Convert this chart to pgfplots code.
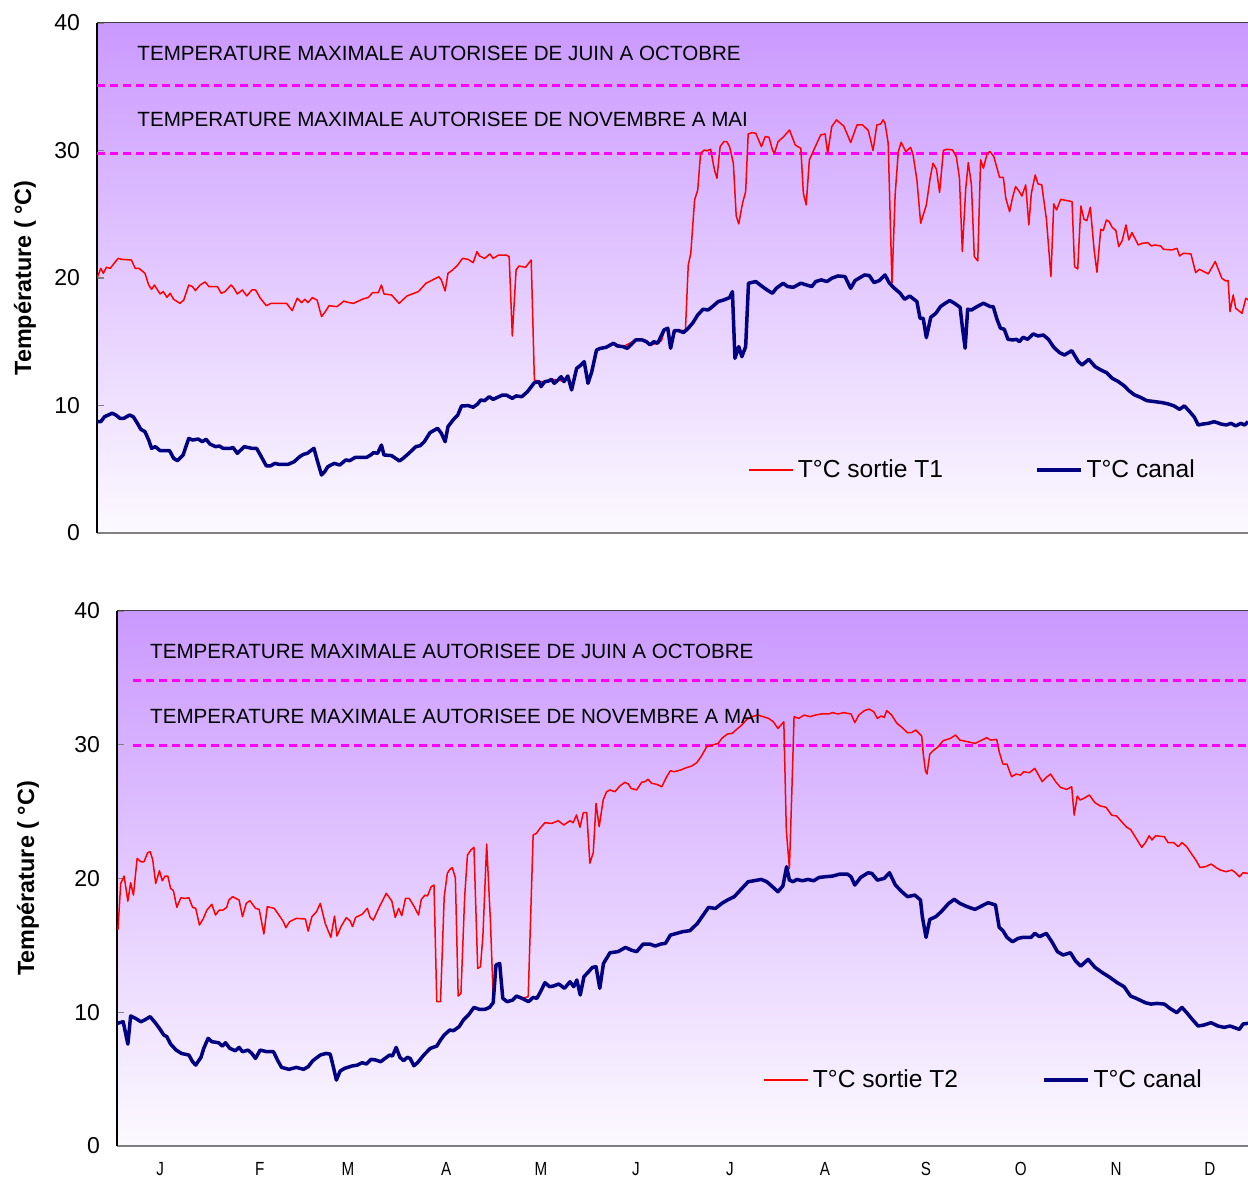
\documentclass[border=0pt]{standalone}
\usepackage{fontspec}
\setmainfont{Liberation Sans}
\usepackage{graphicx}
\usepackage{pgfplots}
\pgfplotsset{compat=1.18}
\usepackage{pgfplotstable}

\definecolor{bgtop}{RGB}{202,153,255}
\definecolor{bgbot}{RGB}{252,250,255}
\definecolor{rouge}{RGB}{255,0,0}
\definecolor{marine}{RGB}{0,0,128}
\definecolor{fuchsia}{RGB}{255,0,255}

% Sortie T1 (jour, degres C)
\pgfplotstableread{
d t
0 19.98
1.2 20.76
2.0 20.37
3.0 20.84
4.2 20.76
6.7 21.54
7.9 21.46
10.9 21.41
12.1 20.76
13.3 20.76
15.2 20.37
16.4 19.45
17.3 19.11
18.2 19.45
20.0 18.75
21.0 18.93
22.2 18.48
23.2 18.80
24.3 18.33
26.3 18.01
27.5 18.27
29.1 19.45
30.3 19.32
31.2 19.01
32.7 19.45
34.3 19.69
35.5 19.32
38.2 19.32
39.4 18.80
40.6 18.93
42.5 19.45
43.3 19.24
44.5 18.75
46.1 19.06
47.5 18.59
49.1 19.06
50.3 19.06
51.8 18.41
53.7 17.83
55.2 18.01
60.1 18.01
61.9 17.44
63.5 18.41
64.9 18.07
65.9 18.33
66.9 18.07
68.3 18.46
69.8 18.27
71.2 16.97
72.4 17.36
73.6 17.83
76.1 17.75
78.3 18.19
79.5 18.09
81.3 18.01
84.3 18.35
86.1 18.48
87.4 18.85
89.2 18.85
90.2 19.45
91.0 18.75
93.4 18.67
95.8 18.01
98.3 18.59
101.9 18.93
104.3 19.58
108.4 20.10
109.2 19.84
110.4 18.98
111.3 20.37
112.8 20.63
114.4 21.02
115.9 21.54
117.7 21.46
119.3 21.20
120.5 22.07
121.3 21.73
122.9 21.54
124.6 21.88
125.6 21.54
127.4 21.80
129.8 21.80
130.7 21.67
131.7 15.45
132.9 20.63
133.8 20.94
135.9 20.84
137.7 21.41
138.7 12.00
140.2 11.87
142.0 11.87
144.1 12.05
146.2 12.00
148.1 11.87
149.3 12.31
150.5 11.22
152.1 12.91
154.5 13.44
155.7 11.74
156.9 12.65
158.4 14.35
161.4 14.56
163.8 14.88
166.9 14.61
170.8 15.14
172.9 15.14
175.4 14.75
177.8 14.88
179.0 15.09
180.0 15.92
181.1 15.97
182.0 14.48
182.9 15.87
185.1 15.87
186.6 15.90
187.5 21.02
188.3 21.94
189.5 26.12
190.5 26.91
191.4 29.78
192.6 30.04
193.4 29.97
194.6 30.10
195.8 28.47
196.6 27.82
197.6 30.30
198.8 30.70
199.7 30.70
200.6 30.30
201.8 29.00
202.7 24.87
203.5 24.24
204.7 25.86
205.7 26.77
206.5 31.30
207.7 31.40
208.9 31.35
210.7 30.30
211.9 31.09
213.1 31.04
214.2 30.04
214.8 29.78
216.0 30.70
217.8 31.09
219.6 31.61
221.4 30.44
222.6 30.25
223.2 30.17
224.0 26.64
224.9 25.73
225.9 29.26
227.3 30.04
229.5 31.22
230.9 31.30
231.7 29.78
233.0 31.87
234.5 32.40
236.0 32.08
236.8 31.93
239.0 30.62
241.0 32.00
242.8 32.00
244.6 31.56
246.1 30.00
247.3 32.00
248.5 32.08
249.3 32.40
249.9 32.13
250.9 30.57
252.1 19.59
253.1 26.51
254.1 29.91
255.0 30.64
256.5 29.91
258.0 30.25
258.8 29.65
260.0 27.69
261.2 24.29
263.0 25.73
264.2 27.82
265.1 29.00
266.2 28.53
267.2 26.70
268.4 30.00
269.5 30.10
271.3 30.04
272.5 29.52
273.5 27.82
274.4 22.07
275.5 27.04
276.3 29.05
277.3 27.30
278.2 21.68
279.3 21.34
280.2 29.26
281.1 28.61
282.3 29.78
283.2 29.91
284.4 29.52
286.2 27.90
287.4 27.90
288.2 26.25
289.4 25.20
290.4 26.38
291.3 27.17
292.5 26.77
293.3 26.43
294.5 27.30
295.5 24.16
296.3 26.64
297.5 28.08
298.4 27.38
299.6 27.30
301.1 24.55
302.5 20.11
303.4 25.81
304.3 25.34
305.6 26.17
309.2 25.99
310.0 20.89
311.0 20.71
312.0 25.65
313.0 24.60
313.9 24.50
315.0 25.55
316.2 22.20
317.1 20.45
318.3 23.82
319.1 23.72
320.1 24.55
321.0 24.42
321.9 23.98
323.1 23.72
324.0 22.46
325.1 22.93
326.3 24.16
327.2 22.98
328.2 23.56
330.2 22.59
331.4 22.72
333.2 22.77
334.4 22.51
335.5 22.59
337.3 22.51
338.2 22.25
340.9 22.20
342.5 22.33
343.3 21.73
344.5 21.94
346.9 21.89
348.4 20.42
349.6 20.68
352.4 20.32
354.6 21.29
356.7 19.98
357.9 19.77
358.7 19.80
359.3 17.36
360.3 18.67
361.1 17.62
363.1 17.23
364.3 18.41
365.0 18.28
}\sortieA

% Canal, panneau T1
\pgfplotstableread{
d t
0 8.73
1.2 8.73
2.4 9.12
4.8 9.39
6.0 9.25
7.3 8.99
8.5 8.99
10.3 9.25
11.5 9.12
12.7 8.65
13.9 8.13
15.2 7.95
16.4 7.29
17.3 6.64
18.5 6.77
20.0 6.46
23.0 6.46
24.3 5.86
25.5 5.67
27.3 6.12
29.1 7.42
30.3 7.29
32.1 7.37
33.4 7.16
34.6 7.35
35.8 6.98
37.6 6.77
38.8 6.82
40.0 6.64
42.5 6.64
43.1 6.72
44.5 6.25
46.7 6.77
49.1 6.64
50.6 6.64
51.8 6.12
53.7 5.26
55.0 5.26
56.4 5.46
57.6 5.39
60.7 5.39
62.5 5.59
64.3 5.99
65.5 6.17
66.7 6.25
68.8 6.64
69.8 5.73
71.2 4.55
72.2 4.81
73.2 5.20
75.2 5.46
77.0 5.33
78.9 5.73
80.1 5.67
81.9 5.93
85.5 5.93
86.8 6.12
87.7 6.30
89.0 6.25
90.2 6.90
91.0 6.12
93.4 6.07
95.9 5.65
97.1 5.86
98.9 6.25
101.1 6.77
102.5 6.85
103.8 7.16
105.6 7.87
108.0 8.21
109.2 7.82
110.4 7.16
111.3 8.34
112.9 8.86
114.4 9.25
115.6 9.96
117.7 9.99
119.3 9.86
120.7 10.12
121.7 10.43
122.9 10.38
124.4 10.69
125.6 10.48
128.6 10.82
129.8 10.82
131.7 10.56
132.9 10.75
134.7 10.69
136.5 11.08
138.7 11.79
140.2 11.87
140.8 11.48
142.0 11.87
143.2 11.92
144.1 12.05
145.0 11.74
146.2 12.00
147.2 12.26
148.1 11.87
149.3 12.31
150.5 11.22
152.1 12.91
153.5 13.18
154.5 13.44
155.7 11.74
156.9 12.65
158.4 14.35
159.6 14.48
161.4 14.56
163.8 14.88
165.0 14.67
166.9 14.61
168.1 14.48
169.3 14.75
170.8 15.14
172.9 15.14
174.2 15.01
175.4 14.75
176.6 15.01
177.8 14.88
179.8 15.92
181.0 16.06
181.9 14.49
183.1 15.87
184.5 15.87
186.0 15.72
187.5 16.06
189.0 16.50
190.5 17.10
192.2 17.55
193.8 17.49
195.2 17.76
197.0 18.15
198.8 18.28
200.6 18.46
201.5 18.93
202.3 13.70
203.5 14.62
204.5 13.83
205.7 14.62
206.6 19.59
208.9 19.72
210.7 19.38
212.5 19.06
214.2 18.80
215.4 19.19
217.6 19.59
219.0 19.33
220.8 19.27
223.2 19.59
224.9 19.46
226.7 19.33
227.9 19.72
229.7 19.85
231.5 19.72
233.0 19.98
235.0 20.16
237.2 20.11
239.0 19.19
240.4 19.80
243.4 20.24
244.9 20.19
246.4 19.64
248.1 19.80
249.9 20.24
251.3 19.59
252.9 19.19
254.7 18.80
256.1 18.33
257.7 18.59
260.0 18.15
261.0 16.84
262.0 16.84
263.0 15.32
264.4 16.92
266.0 17.23
267.5 17.76
269.0 18.02
270.4 18.23
271.9 18.02
273.7 17.70
274.4 16.19
275.3 14.49
276.1 17.55
277.3 17.49
279.1 17.76
281.1 18.02
283.2 17.76
284.2 17.76
285.4 16.76
286.5 16.06
287.7 15.98
288.9 15.19
290.4 15.14
291.6 15.19
292.5 15.01
293.7 15.35
295.1 15.19
296.9 15.61
298.4 15.45
300.1 15.53
301.7 15.19
303.4 14.57
305.2 14.15
306.8 13.96
309.1 14.30
311.2 13.44
312.4 13.18
314.5 13.62
316.5 13.05
318.3 12.79
320.1 12.58
321.9 12.14
323.9 11.87
325.8 11.53
327.2 11.17
329.0 10.83
330.8 10.65
332.9 10.38
335.5 10.30
337.9 10.22
339.7 10.12
341.5 9.97
343.3 9.70
344.8 9.97
346.5 9.52
348.0 9.08
349.2 8.47
350.8 8.55
352.4 8.60
354.3 8.73
356.4 8.55
358.1 8.47
359.6 8.60
361.1 8.40
362.7 8.60
363.9 8.47
365.0 8.73
}\canalA

% Sortie T2
\pgfplotstableread{
d t
0.3 16.15
1.2 19.63
2.3 20.18
3.5 18.31
4.4 19.68
5.3 18.76
6.5 21.50
7.7 21.25
8.7 21.25
9.9 21.93
10.7 22.00
11.5 21.43
12.5 19.63
13.7 20.58
14.6 19.83
15.5 20.18
16.4 20.18
17.3 19.26
18.2 19.09
19.3 17.84
20.6 18.56
22.0 18.51
23.2 18.56
24.4 17.84
25.4 17.77
26.6 16.52
27.8 16.97
29.0 17.64
30.6 18.07
31.8 17.27
33.0 17.64
34.2 17.64
35.4 17.84
36.1 18.39
37.3 18.64
39.4 18.39
40.5 17.14
41.7 18.14
42.9 18.34
44.7 17.77
45.9 17.69
47.4 15.85
48.5 17.89
50.7 17.77
51.9 17.39
53.7 16.77
54.5 16.32
55.7 16.77
57.9 17.02
60.8 16.97
61.7 16.07
62.9 17.14
64.4 17.52
65.6 18.14
67.2 16.64
69.0 15.60
70.2 17.19
71.0 15.70
72.4 16.45
74.0 17.07
75.2 16.84
76.0 16.40
77.0 17.09
79.1 17.32
80.8 17.77
81.7 17.09
82.7 16.89
84.7 17.89
86.9 18.89
88.7 18.31
89.8 17.09
90.9 17.77
91.9 17.22
93.1 18.51
94.3 18.51
95.8 17.94
97.3 17.27
98.2 18.44
99.4 18.76
100.2 18.69
101.4 19.39
102.3 19.51
103.2 10.79
104.4 10.79
105.6 18.64
106.6 20.38
107.4 20.68
108.2 20.81
109.2 20.06
110.1 11.21
111.0 11.41
112.2 18.64
113.1 21.75
114.2 22.13
115.2 22.33
116.4 13.28
117.3 13.40
118.1 15.77
119.3 22.58
120.5 16.89
121.4 11.16
122.3 13.53
123.5 13.65
124.5 11.04
125.9 10.79
127.7 10.91
128.9 11.21
130.7 11.04
132.7 11.16
134.3 23.25
135.4 23.38
136.5 23.75
138.1 24.17
140.3 24.12
142.4 24.32
144.2 24.00
146.2 24.32
147.2 24.17
148.3 24.75
149.4 23.83
150.5 24.92
151.6 24.92
152.6 21.14
153.7 21.93
154.6 25.62
155.6 23.87
156.9 25.87
158.0 26.49
159.1 26.62
160.7 26.49
162.3 26.92
163.9 27.19
165.0 27.07
165.9 26.74
167.7 26.62
169.3 27.19
170.4 27.24
171.4 27.42
172.5 27.12
174.2 27.04
175.8 26.86
177.4 27.61
178.6 28.06
179.8 27.98
181.9 28.11
183.7 28.28
185.5 28.41
187.1 28.66
188.5 29.11
190.3 29.85
192.2 29.98
194.0 30.10
195.2 30.48
197.0 30.80
198.5 30.85
200.0 31.15
201.6 31.47
203.3 31.90
204.9 32.10
206.9 32.22
208.5 32.10
210.3 31.97
211.8 31.72
213.3 31.22
215.2 31.72
216.0 23.62
217.0 20.76
217.8 26.61
218.5 32.10
220.0 31.97
221.8 32.22
223.6 32.10
225.4 32.22
227.3 32.30
229.7 32.30
230.9 32.40
232.7 32.30
234.5 32.40
236.9 32.30
238.1 31.65
239.4 32.22
241.2 32.55
242.7 32.67
244.2 32.47
245.4 31.97
246.6 32.15
247.6 32.05
248.4 32.55
250.0 32.22
251.7 31.60
253.3 31.30
255.1 30.90
256.3 30.90
257.8 31.10
259.7 30.65
260.2 29.30
260.9 28.06
261.4 27.81
262.3 29.30
263.6 29.60
264.8 29.80
266.6 30.30
269.0 30.48
270.6 30.73
272.0 30.35
274.4 30.23
276.9 30.10
278.7 30.30
280.7 30.53
281.9 30.35
283.9 30.40
284.7 29.48
285.9 28.56
287.2 28.56
288.7 27.61
290.2 27.81
291.6 27.73
292.6 27.98
294.4 27.91
296.2 28.23
297.4 27.73
298.6 27.24
299.9 27.56
301.3 27.81
302.9 27.24
304.5 26.81
306.5 26.66
308.1 26.86
308.9 24.74
309.9 26.16
310.8 25.87
312.0 25.99
313.8 26.24
315.6 25.67
317.4 25.42
319.2 25.32
321.0 24.74
322.6 24.67
324.7 24.12
325.9 23.82
327.1 23.67
328.9 23.00
330.7 22.33
331.9 22.68
333.1 23.20
334.0 22.88
335.2 23.20
338.0 23.12
339.2 22.68
341.0 22.68
342.5 22.38
343.7 22.68
345.2 22.38
346.8 21.83
348.3 21.33
349.5 20.83
351.3 20.88
353.1 21.08
354.6 20.83
356.1 20.63
357.9 20.51
359.8 20.63
361.0 20.43
362.2 20.13
363.4 20.43
365.0 20.38
}\sortieB

% Canal, panneau T2
\pgfplotstableread{
d t
0 9.17
2.0 9.29
3.5 7.62
4.4 9.72
6.0 9.54
7.7 9.29
8.9 9.42
10.7 9.67
12.5 9.17
13.7 8.79
15.1 8.30
16.1 8.17
17.3 7.62
19.1 7.17
20.8 6.92
23.2 6.80
24.4 6.30
25.4 6.05
27.1 6.63
28.0 7.30
29.4 8.05
30.6 7.80
32.8 7.72
34.0 7.47
35.0 7.72
36.4 7.30
38.2 7.12
39.4 7.37
40.5 7.05
42.3 7.17
43.5 6.92
44.7 6.55
46.2 7.17
48.3 7.05
50.5 7.05
51.9 6.38
53.1 5.88
55.5 5.73
57.9 5.88
60.2 5.73
61.7 5.93
63.2 6.38
65.6 6.80
67.4 6.92
68.8 6.87
69.8 5.93
70.8 4.93
72.0 5.60
73.4 5.80
75.8 5.98
77.6 6.05
79.1 6.23
80.5 6.13
82.0 6.48
83.5 6.43
85.1 6.30
86.5 6.55
88.0 6.80
88.9 6.73
90.1 7.37
91.3 6.63
92.5 6.38
93.7 6.63
94.6 6.55
95.8 6.00
97.0 6.23
99.0 6.80
101.1 7.30
103.2 7.47
104.4 7.92
105.6 8.30
107.4 8.67
108.6 8.62
110.4 8.92
111.8 9.42
113.4 9.79
115.2 10.36
117.0 10.21
118.7 10.21
120.2 10.36
121.4 10.71
122.3 13.53
123.5 13.65
124.5 11.04
125.9 10.79
127.7 10.91
128.9 11.21
130.7 11.04
132.8 10.79
134.3 11.11
135.5 11.04
136.7 11.54
138.1 12.21
139.6 11.91
140.8 11.96
142.6 12.11
144.4 11.79
146.2 12.28
147.4 11.91
148.4 12.41
149.5 11.29
150.7 12.66
152.2 13.03
153.4 13.35
154.6 13.40
155.8 11.79
157.0 13.65
159.1 14.45
161.7 14.53
164.1 14.85
165.9 14.65
167.7 14.53
169.8 15.10
171.9 15.10
173.7 14.95
175.5 15.10
177.0 15.15
178.6 15.77
180.7 15.90
182.5 16.02
184.9 16.10
187.3 16.64
188.8 17.14
190.9 17.84
193.1 17.76
195.2 18.14
197.0 18.39
199.2 18.64
201.2 19.14
203.7 19.76
205.5 19.83
207.9 19.93
209.7 19.76
211.5 19.39
213.3 19.01
214.9 19.44
216.1 20.88
217.0 19.88
218.2 19.76
219.4 19.93
221.2 19.83
223.0 19.93
224.8 19.83
226.6 20.08
228.5 20.13
230.9 20.18
233.3 20.33
235.7 20.33
236.9 20.13
238.1 19.51
240.0 20.08
242.4 20.43
243.6 20.38
245.4 19.88
247.6 20.01
249.3 20.43
251.2 19.51
253.3 19.01
255.1 18.64
257.5 18.76
259.3 18.39
259.9 17.14
261.1 15.60
262.3 16.94
264.2 17.14
266.0 17.52
268.4 18.14
270.2 18.44
272.0 18.14
274.4 17.89
276.9 17.69
279.0 17.94
281.1 18.19
283.5 18.02
284.7 16.35
285.9 16.10
287.2 15.60
289.0 15.27
290.8 15.52
292.4 15.60
295.0 15.60
296.2 15.90
297.7 15.65
299.9 15.90
301.7 15.27
303.5 14.53
305.3 14.28
307.7 14.45
309.3 13.85
311.0 13.45
313.4 13.95
315.6 13.36
318.0 12.96
320.4 12.61
322.8 12.21
325.0 11.91
327.1 11.21
328.9 11.04
331.9 10.71
333.7 10.61
335.6 10.66
338.0 10.61
339.8 10.29
342.0 9.97
343.7 10.36
345.2 9.97
347.0 9.47
348.9 8.97
350.7 9.04
353.1 9.22
355.3 8.97
357.3 8.87
359.2 8.97
360.4 8.87
362.2 8.72
363.4 9.12
365.0 9.17
}\canalB

\tikzset{note/.style={anchor=west, inner sep=0pt, font=\fontsize{10.3}{12}\selectfont}}

\pgfplotsset{
  panneau/.style={
    scale only axis,
    xmin=0, xmax=365, ymin=0, ymax=40,
    axis x line*=bottom, axis y line*=left,
    x axis line style={draw=gray, line width=1pt},
    y axis line style={draw=black, line width=0.6pt},
    ytick={0,10,20,30,40},
    tick align=inside,
    major tick length=3.5pt,
    ytick style={draw=gray, line width=0.6pt},
    xtick style={draw=none},
    yticklabel style={font=\fontsize{11.5}{13}\selectfont, xshift=-5pt},
    /pgf/number format/assume math mode=true,
    axis background/.style={top color=bgtop, bottom color=bgbot},
    ylabel={Température ( °C)},
    ylabel style={font=\bfseries\fontsize{11.7}{13}\selectfont, anchor=center},
    legend image code/.code={\draw[##1] (0pt,0pt) -- (22pt,0pt);},
    legend style={draw=none, fill=none, anchor=west, legend columns=2,
      inner sep=0pt, font=\fontsize{12.3}{14}\selectfont},
    legend cell align=left,
    after end axis/.code={\draw[black!75, line width=0.5pt]
      (rel axis cs:0,1) -- (rel axis cs:1,1);},
  },
  sortie/.style={draw=rouge, line width=0.75pt, line join=round},
  canal/.style={draw=marine, line width=1.75pt, line join=round},
  seuil/.style={draw=fuchsia, line width=1.5pt, dash pattern=on 4pt off 2.5pt},
}

\begin{document}
\begin{tikzpicture}
\useasboundingbox (0,0) rectangle (624pt,589pt);

% Panneau T1
\begin{axis}[panneau,
  at={(48.5pt,322.5pt)}, anchor=south west,
  width=575.5pt, height=255pt,
  xtick=\empty,
  ylabel style={at={(rel axis cs:-0.0626,0.5)}},
  legend style={at={(rel axis cs:0.5656,0.1235)},
    /tikz/every even column/.append style={column sep=44pt}},
]
\addplot[seuil, forget plot] coordinates {(0,35.06) (365,35.06)};
\addplot[seuil, forget plot] coordinates {(0,29.73) (365,29.73)};
\addplot[sortie] table[x=d, y=t] {\sortieA};
\addplot[canal] table[x=d, y=t] {\canalA};
\legend{T°C sortie T1, T°C canal}
\node[note] at (axis cs:12.7,37.65) {TEMPERATURE MAXIMALE AUTORISEE DE JUIN A OCTOBRE};
\node[note] at (axis cs:12.7,32.47) {TEMPERATURE MAXIMALE AUTORISEE DE NOVEMBRE A MAI};
\end{axis}

% Panneau T2
\begin{axis}[panneau,
  at={(58.5pt,16pt)}, anchor=south west,
  width=565.5pt, height=267.5pt,
  xtick={13.9,46.1,74.5,106.2,136.8,167.5,197.8,228.5,261.1,291.7,322.4,352.7},
  xticklabels={\scalebox{0.8}[1]{J},\scalebox{0.8}[1]{F},\scalebox{0.8}[1]{M},
    \scalebox{0.8}[1]{A},\scalebox{0.8}[1]{M},\scalebox{0.8}[1]{J},
    \scalebox{0.8}[1]{J},\scalebox{0.8}[1]{A},\scalebox{0.8}[1]{S},
    \scalebox{0.8}[1]{O},\scalebox{0.8}[1]{N},\scalebox{0.8}[1]{D}},
  xticklabel style={font=\fontsize{9.5}{11}\selectfont, yshift=-4.5pt},
  ylabel style={at={(rel axis cs:-0.0787,0.5)}},
  legend style={at={(rel axis cs:0.5712,0.1234)},
    /tikz/every even column/.append style={column sep=40pt}},
]
\addplot[seuil, forget plot] coordinates {(5.2,34.84) (365,34.84)};
\addplot[seuil, forget plot] coordinates {(5.2,29.98) (365,29.98)};
\addplot[sortie] table[x=d, y=t] {\sortieB};
\addplot[canal] table[x=d, y=t] {\canalB};
\legend{T°C sortie T2, T°C canal}
\node[note] at (axis cs:10.6,37.0) {TEMPERATURE MAXIMALE AUTORISEE DE JUIN A OCTOBRE};
\node[note] at (axis cs:10.6,32.15) {TEMPERATURE MAXIMALE AUTORISEE DE NOVEMBRE A MAI};
\end{axis}
\end{tikzpicture}
\end{document}
